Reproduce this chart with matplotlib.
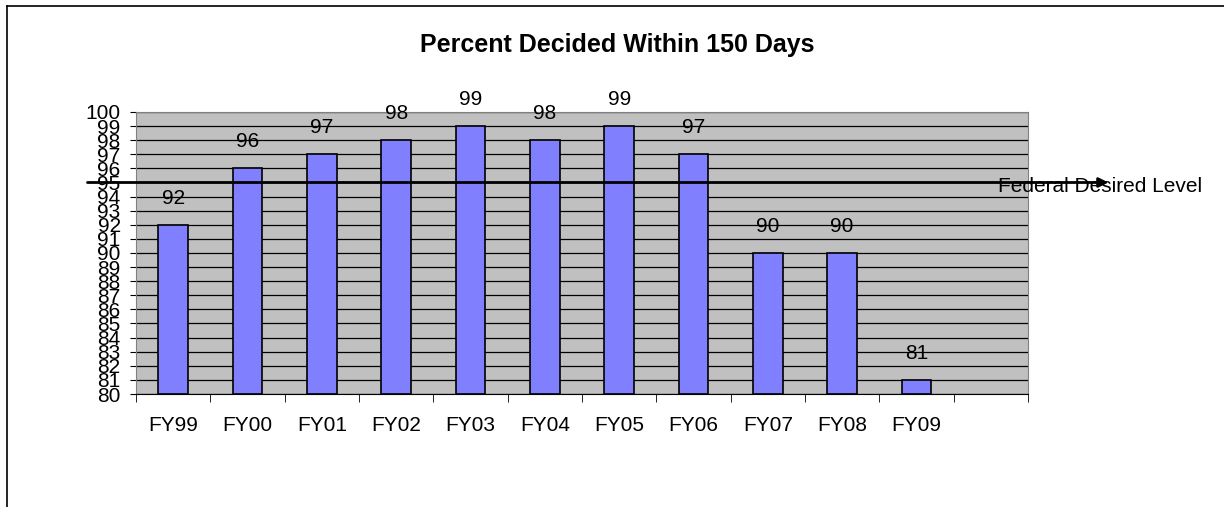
import numpy as np
import matplotlib.pyplot as plt
from matplotlib.lines import Line2D

# data
years = ['FY99', 'FY00', 'FY01', 'FY02', 'FY03', 'FY04', 'FY05', 'FY06', 'FY07', 'FY08', 'FY09']
pct = [92, 96, 97, 98, 99, 98, 99, 97, 90, 90, 81]
desired = 95
n_slots = 12

plt.rcParams['font.family'] = ['Liberation Sans', 'DejaVu Sans']
fs = 15

fig = plt.figure(figsize=(12.24, 5.07), dpi=100)
ax = fig.add_axes([136/1224, 1 - 394/507, (1028-136)/1224, (394-112)/507])
ax.set_facecolor('#C0C0C0')

x = np.arange(len(years))
ax.bar(x, [p - 80 for p in pct], bottom=80, width=0.4, color='#8080FF',
       edgecolor='black', linewidth=1.2, zorder=3)

for xi, p in zip(x, pct):
    ax.text(xi, p + 1.9, str(p), ha='center', va='center', fontsize=fs, zorder=4, clip_on=False)

ax.set_xlim(-0.5, n_slots - 0.5)
ax.set_ylim(80, 100)
ax.set_yticks(range(80, 101))
ax.set_yticklabels([str(v) for v in range(80, 101)], fontsize=fs)
ax.yaxis.grid(True, color='black', linewidth=0.9, zorder=1)
ax.set_axisbelow(True)

ax.set_xticks(x)
ax.set_xticklabels(years, fontsize=fs)
ax.set_xticks(np.arange(-0.5, n_slots, 1), minor=True)
ax.tick_params(axis='x', which='major', length=0, pad=16)
ax.tick_params(axis='x', which='minor', length=6, direction='out')
ax.tick_params(axis='y', length=4, pad=7)

for s in ['top', 'right']:
    ax.spines[s].set_color('#808080')
ax.spines['left'].set_color('#808080')
ax.spines['bottom'].set_color('black')

# federal desired level line with arrow
ax.annotate('', xy=(12.62, desired), xytext=(-1.19, desired),
            arrowprops=dict(arrowstyle='-|>', color='black', lw=2, mutation_scale=14),
            annotation_clip=False, zorder=5)
ax.text(11.1, desired - 0.3, 'Federal Desired Level', ha='left', va='center',
        fontsize=fs, clip_on=False, zorder=6)

fig.text(617/1224, 1 - 45/507, 'Percent Decided Within 150 Days', ha='center', va='center',
         fontsize=18, fontweight='bold')

# chart frame (left and top edges)
fig.add_artist(Line2D([7/1224, 7/1224], [0, 1 - 6/507], color='black', lw=1.2,
                      transform=fig.transFigure))
fig.add_artist(Line2D([7/1224, 1], [1 - 6/507, 1 - 6/507], color='black', lw=1.2,
                      transform=fig.transFigure))

fig.savefig('out.png', dpi=100)
